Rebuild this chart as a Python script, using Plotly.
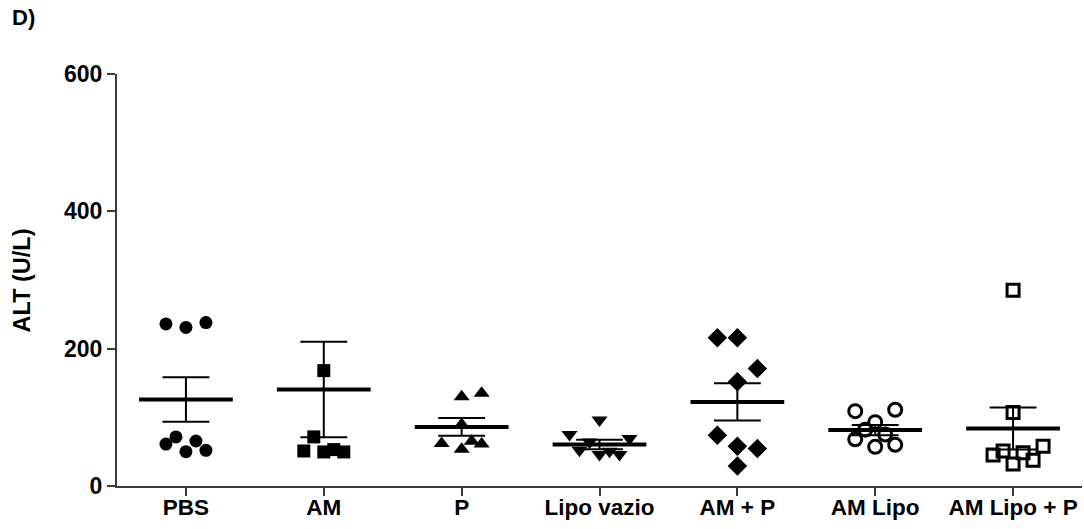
import plotly.graph_objects as go

# ALT values per group (U/L)
categories = ["PBS", "AM", "P", "Lipo vazio", "AM + P", "AM Lipo", "AM Lipo + P"]

pbs = [236, 231, 238, 61, 71.5, 50, 65.5, 52]
am = [168, 71.5, 51, 49.6, 53, 49.6]
p = [130, 135, 89.5, 62, 53.5, 65, 61]
lipo_vazio = [96, 75, 69, 64, 52, 46, 50.6, 46]
am_p = [216, 216, 171, 152, 74, 58, 54.5, 29]
am_lipo = [109, 111, 93, 82, 75, 68, 57, 60]
am_lipo_p = [285, 107, 45, 51, 32, 48.5, 37.5, 58]

# group mean and standard error of the mean
means = [126, 140.6, 86, 60.5, 122.5, 81.5, 83.7]
sems = [32.5, 69.5, 13, 7, 27, 7.5, 30.5]

y_ticks = [0, 200, 400, 600]

groups = [pbs, am, p, lipo_vazio, am_p, am_lipo, am_lipo_p]

# horizontal spread of the points inside each column (in point slots)
spread = [
    [-2, 0, 2, -2, -1, 0, 1, 2],
    [0, -1, -2, 0, 1, 2],
    [0, 2, 0, -2, 0, 1, 2],
    [0, -3, 3, -1, -2, 0, 1, 2],
    [-2, 0, 2, 0, -2, 0, 2, 0],
    [-2, 2, 0, -1, 1, -2, 0, 2],
    [0, 0, -2, -1, 0, 1, 2, 3],
]
slot = 0.0725

symbols = ["circle", "square", "triangle-up", "triangle-down", "diamond",
           "circle-open", "square-open"]
sizes = [13, 13, 14, 14, 15, 13, 12]

INK = "black"
AXIS = "#3a3a3a"
FONT = "Arial, Liberation Sans, sans-serif"

fig = go.Figure()

# mean line and SEM whiskers
mean_x, mean_y, err_x, err_y = [], [], [], []
half_mean, half_cap = 0.34, 0.17
for i, (m, s) in enumerate(zip(means, sems)):
    mean_x += [i - half_mean, i + half_mean, None]
    mean_y += [m, m, None]
    err_x += [i, i, None, i - half_cap, i + half_cap, None, i - half_cap, i + half_cap, None]
    err_y += [m - s, m + s, None, m + s, m + s, None, m - s, m - s, None]

fig.add_trace(go.Scatter(x=err_x, y=err_y, mode="lines",
                         line=dict(color=INK, width=2), hoverinfo="skip"))
fig.add_trace(go.Scatter(x=mean_x, y=mean_y, mode="lines",
                         line=dict(color=INK, width=4), hoverinfo="skip"))

# individual animals
for i, vals in enumerate(groups):
    xs = [i + k * slot for k in spread[i]]
    open_sym = symbols[i].endswith("open")
    fig.add_trace(go.Scatter(
        x=xs, y=vals, mode="markers", name=categories[i],
        marker=dict(symbol=symbols[i], size=sizes[i], color=INK,
                    line=dict(color=INK, width=3 if open_sym else 0)),
    ))

fig.update_layout(
    width=1084, height=529,
    margin=dict(l=117, r=2, t=74, b=43),
    paper_bgcolor="white", plot_bgcolor="white",
    showlegend=False,
    font=dict(family=FONT, size=20, color=INK),
    xaxis=dict(
        range=[-0.5, 6.5], tickmode="array", tickvals=list(range(len(categories))),
        ticktext=[f"<b>{c}</b>" for c in categories],
        showgrid=False, zeroline=False, showline=True, linecolor=AXIS, linewidth=2,
        ticks="outside", ticklen=8, tickwidth=2, tickcolor=AXIS,
        ticklabelstandoff=-8,
        tickfont=dict(size=22.5, family=FONT, color=INK),
    ),
    yaxis=dict(
        range=[0, 600], tickmode="array", tickvals=y_ticks,
        ticktext=[f"<b>{t}</b>" for t in y_ticks],
        showgrid=False, zeroline=False, showline=True, linecolor=AXIS, linewidth=2,
        ticks="outside", ticklen=8, tickwidth=2, tickcolor=AXIS,
        tickfont=dict(size=23, family=FONT, color=INK),
    ),
    annotations=[
        dict(text="<b>ALT (U/L)</b>", textangle=-90, showarrow=False,
             xref="paper", yref="paper", x=-0.098, y=0.5,
             xanchor="center", yanchor="middle",
             font=dict(size=23.5, family=FONT, color=INK)),
        dict(text="<b>D)</b>", showarrow=False,
             xref="paper", yref="paper", x=-0.111, y=1.172,
             xanchor="left", yanchor="top",
             font=dict(size=22, family=FONT, color=INK)),
    ],
)

fig.write_html("out.html")
